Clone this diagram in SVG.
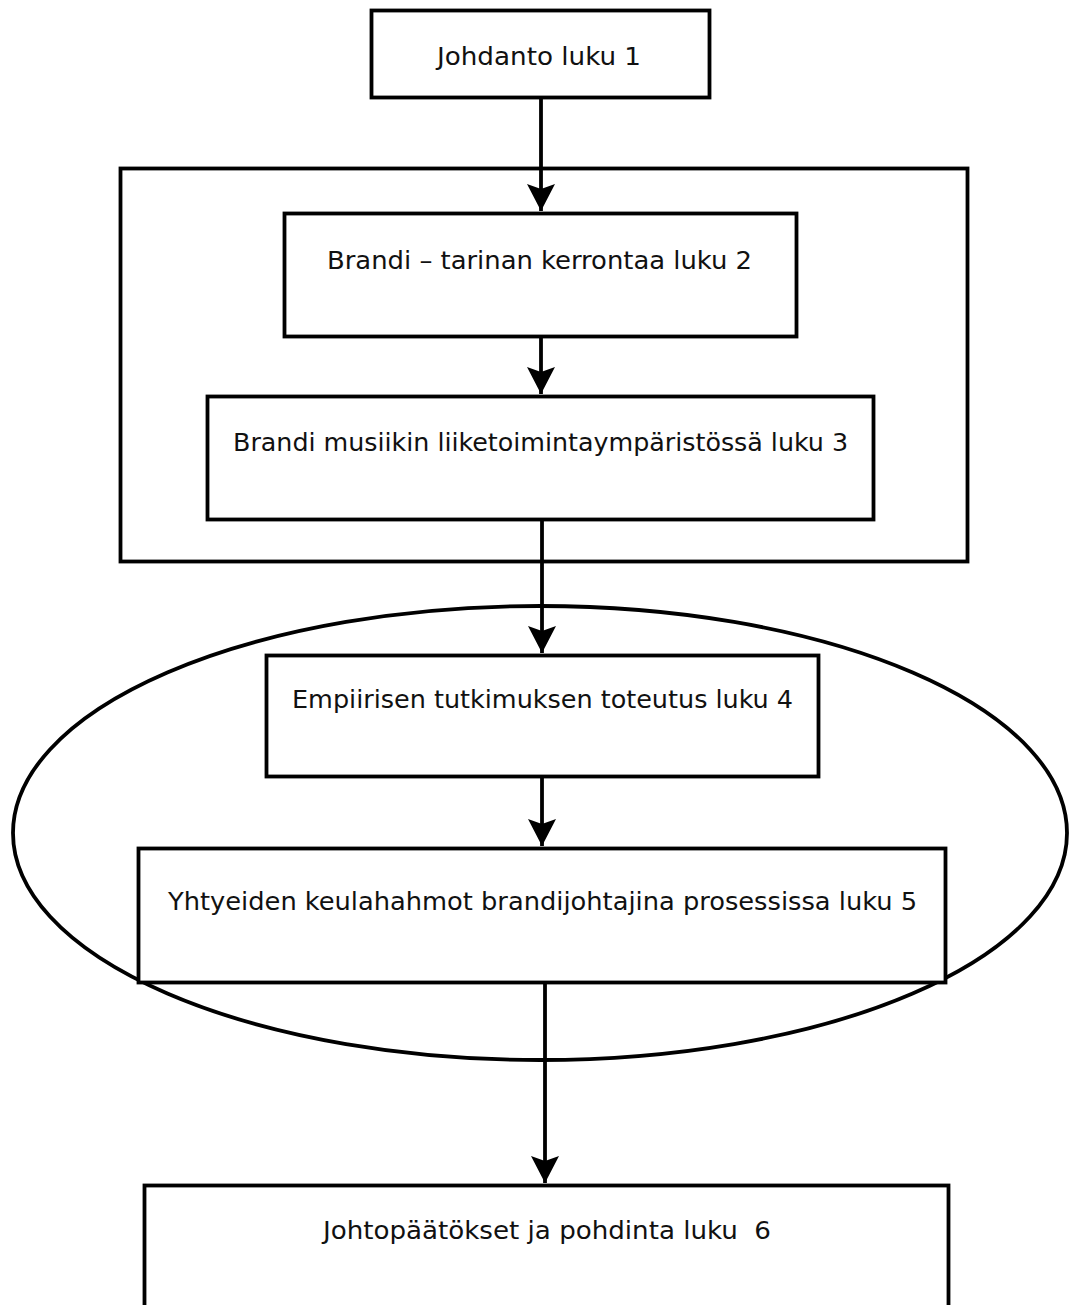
<svg xmlns="http://www.w3.org/2000/svg" width="1069" height="1305" viewBox="0 0 1069 1305">
  <style>
    .box { fill: #ffffff; stroke: #000000; stroke-width: 3.8; }
    .frame { fill: none; stroke: #000000; stroke-width: 3.8; }
    .wire { fill: none; stroke: #000000; stroke-width: 3.8; }
    .label { font-family: "DejaVu Sans Condensed", "DejaVu Sans", sans-serif; font-size: 24px; fill: #111111; text-anchor: middle; }
  </style>
  <defs>
    <!-- barbed arrowhead, tip at the line end, pointing along +x -->
    <marker id="head" markerUnits="userSpaceOnUse" markerWidth="34" markerHeight="34" viewBox="-31 -17 34 34" refX="0" refY="0" orient="auto">
      <path d="M -27 -14 L 0 0 L -27 14 L -22 0 Z" fill="#000000"/>
    </marker>
  </defs>

  <!-- background -->
  <rect x="0" y="0" width="1069" height="1305" fill="#ffffff"/>

  <!-- grouping frames -->
  <g id="theory-frame">
    <rect class="frame" x="120.5" y="168.5" width="847" height="393"/>
  </g>
  <g id="empirical-ellipse">
    <ellipse class="frame" cx="540" cy="833" rx="527" ry="227"/>
  </g>

  <!-- nodes -->
  <g id="n1">
    <rect class="box" x="371.5" y="10.5" width="338" height="87"/>
    <text class="label" x="539" y="65" textLength="204" lengthAdjust="spacingAndGlyphs">Johdanto luku 1</text>
  </g>
  <g id="n2">
    <rect class="box" x="284.5" y="213.5" width="512" height="123"/>
    <text class="label" x="539.5" y="269" textLength="425" lengthAdjust="spacingAndGlyphs">Brandi – tarinan kerrontaa luku 2</text>
  </g>
  <g id="n3">
    <rect class="box" x="207.5" y="396.5" width="666" height="123"/>
    <text class="label" x="540.5" y="451" textLength="615" lengthAdjust="spacingAndGlyphs">Brandi musiikin liiketoimintaympäristössä luku 3</text>
  </g>
  <g id="n4">
    <rect class="box" x="266.5" y="655.5" width="552" height="121"/>
    <text class="label" x="542.5" y="708" textLength="501" lengthAdjust="spacingAndGlyphs">Empiirisen tutkimuksen toteutus luku 4</text>
  </g>
  <g id="n5">
    <rect class="box" x="138.5" y="848.5" width="807" height="134"/>
    <text class="label" x="542.5" y="910" textLength="749" lengthAdjust="spacingAndGlyphs">Yhtyeiden keulahahmot brandijohtajina prosessissa luku 5</text>
  </g>
  <g id="n6">
    <rect class="box" x="144.5" y="1185.5" width="804" height="140"/>
    <text class="label" x="547" y="1239" textLength="448" lengthAdjust="spacingAndGlyphs" xml:space="preserve">Johtopäätökset ja pohdinta luku  6</text>
  </g>

  <!-- connectors -->
  <g id="connectors">
    <line class="wire" x1="541" y1="97" x2="541" y2="211" marker-end="url(#head)"/>
    <line class="wire" x1="541" y1="337" x2="541" y2="394" marker-end="url(#head)"/>
    <line class="wire" x1="542" y1="520" x2="542" y2="653" marker-end="url(#head)"/>
    <line class="wire" x1="542" y1="777" x2="542" y2="846" marker-end="url(#head)"/>
    <line class="wire" x1="545" y1="983" x2="545" y2="1183" marker-end="url(#head)"/>
  </g>
</svg>
